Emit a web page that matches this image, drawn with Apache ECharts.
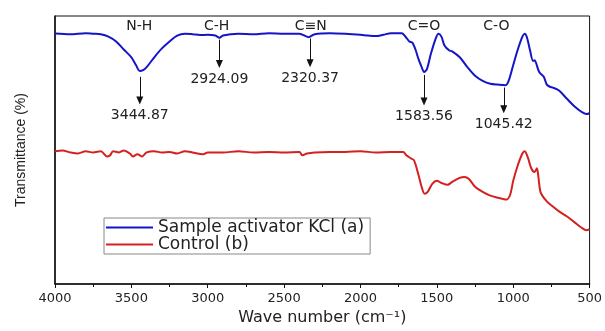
<!DOCTYPE html>
<html>
<head>
<meta charset="utf-8">
<script src="https://cdn.jsdelivr.net/npm/echarts@6/dist/echarts.min.js"></script>
<style>
  html, body { margin: 0; padding: 0; background: #fff; }
  #chart { width: 605px; height: 331px; }
</style>
</head>
<body>
<div id="chart"></div>
<script>
// wavenumber (cm-1), transmittance (arbitrary)
const sampleKCl = [
  [4000, 93.5], [3900, 93.2], [3800, 93.6], [3750, 93.4], [3700, 93.2], [3650, 92.3],
  [3600, 90.5], [3550, 87.5], [3500, 84.6], [3470, 81.7], [3445, 79.5], [3420, 79.9],
  [3400, 80.9], [3350, 84.6], [3300, 87.9], [3250, 90.5], [3200, 92.7], [3150, 93.4],
  [3100, 93.2], [3050, 92.9], [3000, 93.0], [2950, 92.7], [2924, 91.9], [2900, 92.7],
  [2850, 93.2], [2800, 93.4], [2700, 93.2], [2600, 93.6], [2500, 93.4], [2400, 93.4],
  [2340, 92.1], [2300, 93.2], [2200, 93.6], [2100, 93.4], [2000, 93.0], [1950, 92.7],
  [1900, 92.5], [1850, 93.0], [1800, 93.6], [1730, 93.6], [1700, 91.9], [1680, 90.5],
  [1660, 90.1], [1640, 87.5], [1620, 83.9], [1600, 81.0], [1584, 79.1], [1565, 80.2],
  [1540, 85.7], [1510, 91.2], [1490, 93.4], [1470, 92.3], [1450, 89.0], [1420, 87.2],
  [1400, 86.8], [1350, 84.6], [1300, 80.9], [1250, 77.7], [1200, 75.8], [1150, 74.7],
  [1100, 74.4], [1050, 74.2], [1030, 75.8], [1000, 81.7], [970, 87.5], [940, 92.3],
  [925, 93.4], [910, 92.0], [890, 87.2], [870, 83.2], [860, 83.5], [850, 82.4],
  [830, 79.1], [800, 77.3], [780, 74.4], [760, 73.6], [740, 73.3], [700, 72.2],
  [650, 69.2], [600, 66.3], [550, 64.1], [520, 63.4], [500, 63.7]
]

const control = [
  [4000, 49.5], [3950, 49.8], [3900, 49.1], [3850, 48.7], [3800, 49.5], [3750, 49.1],
  [3700, 49.5], [3660, 47.6], [3640, 48.0], [3620, 49.5], [3580, 49.1], [3550, 49.8],
  [3510, 48.7], [3490, 47.6], [3460, 48.4], [3430, 47.6], [3400, 49.1], [3350, 49.5],
  [3300, 49.1], [3250, 49.3], [3200, 48.7], [3150, 49.5], [3100, 49.1], [3030, 48.4],
  [3000, 49.1], [2900, 49.1], [2800, 49.5], [2700, 49.1], [2600, 49.3], [2500, 49.1],
  [2400, 49.3], [2380, 48.0], [2350, 48.7], [2300, 49.1], [2200, 49.3], [2100, 49.3],
  [2000, 49.5], [1900, 49.1], [1800, 49.3], [1720, 49.3], [1700, 48.0], [1670, 46.9],
  [1650, 46.2], [1620, 40.7], [1600, 36.3], [1580, 33.7], [1560, 34.4], [1530, 37.4],
  [1500, 38.5], [1470, 37.7], [1430, 37.0], [1400, 38.1], [1350, 39.6], [1320, 39.9],
  [1290, 39.2], [1250, 36.3], [1200, 34.4], [1150, 33.0], [1100, 32.2], [1045, 31.5],
  [1020, 33.3], [1000, 38.5], [970, 44.3], [940, 48.7], [925, 49.5], [905, 47.3],
  [880, 42.9], [860, 41.8], [845, 43.2], [835, 39.9], [820, 34.1], [780, 30.8],
  [740, 28.9], [700, 27.1], [650, 25.3], [600, 23.1], [550, 20.9], [520, 20.1], [500, 20.5]
]

// peak arrows: [x, arrow start y, arrow end y, label]
const peakArrows = [
  [3445, 77.3, 68.5, '3444.87'],
  [2924, 91.2, 82.1, '2924.09'],
  [2330, 91.6, 82.4, '2320.37'],
  [1584, 78.0, 68.1, '1583.56'],
  [1062, 73.3, 65.2, '1045.42']
]

// bond labels: [x, y, text]
const bondLabels = [
  [3448, 96.3, 'N-H'],
  [2942, 96.3, 'C-H'],
  [2325, 96.3, 'C\u2261N'],
  [1584, 96.3, 'C=O'],
  [1110, 96.3, 'C-O']
]

const seriesNames = ['Sample activator KCl (a)', 'Control (b)']
const xTicks = [500, 4000, 500] // min, max, step

const font = 'DejaVu Sans, Arial, sans-serif'
const chart = echarts.init(document.getElementById('chart'))

const option = {
  animation: false,
  textStyle: { fontFamily: font },
  grid: {
    left: 55, right: 11, top: 16, bottom: 42,
    show: true, borderColor: '#111', borderWidth: 1
  },
  legend: {
    data: seriesNames,
    orient: 'vertical',
    left: 104, top: 218,
    icon: 'rect',
    itemWidth: 47, itemHeight: 2, itemGap: 0,
    padding: [1, 6, 1, 2],
    borderColor: '#888', borderWidth: 1,
    backgroundColor: '#fff',
    textStyle: { fontSize: 17, lineHeight: 17, color: '#222', fontFamily: font }
  },
  xAxis: {
    type: 'value',
    inverse: true,
    min: xTicks[0], max: xTicks[1], interval: xTicks[2],
    name: 'Wave number (cm\u207B\u00B9)',
    nameLocation: 'middle',
    nameGap: 26,
    nameTextStyle: { fontSize: 16, color: '#222' },
    axisLine: { lineStyle: { color: '#111', width: 1.5 } },
    axisTick: { show: true, length: 4, lineStyle: { color: '#111' } },
    minorTick: { show: true, splitNumber: 2, length: 3, lineStyle: { color: '#111' } },
    axisLabel: { fontSize: 13, color: '#222', margin: 8, formatter: v => String(v) },
    splitLine: { show: false }
  },
  yAxis: {
    type: 'value',
    min: 0, max: 100,
    name: 'Transmittance (%)',
    nameLocation: 'middle',
    nameGap: 27,
    nameTextStyle: { fontSize: 14, color: '#222', fontFamily: 'Liberation Sans, Arial, sans-serif' },
    axisLine: { show: true, lineStyle: { color: '#111', width: 1.5 } },
    axisTick: { show: false },
    axisLabel: { show: false },
    splitLine: { show: false }
  },
  series: [
    {
      name: seriesNames[0],
      type: 'line',
      data: sampleKCl,
      symbol: 'none',
      smooth: 0.3,
      lineStyle: { color: '#1515c8', width: 2 },
      itemStyle: { color: '#1515c8' },
      markLine: {
        silent: true,
        symbol: ['none', 'triangle'],
        symbolSize: [7, 8],
        lineStyle: { color: '#111', width: 1, type: 'solid' },
        label: {
          position: 'end', distance: 8,
          fontSize: 14, color: '#222', fontFamily: font,
          formatter: p => p.name
        },
        data: peakArrows.map(a => [
          { coord: [a[0], a[1]], name: a[3] },
          { coord: [a[0], a[2]] }
        ])
      },
      markPoint: {
        silent: true,
        symbol: 'circle',
        symbolSize: 0,
        label: {
          show: true, position: 'inside',
          fontSize: 14, color: '#222', fontFamily: font,
          formatter: p => p.name
        },
        data: bondLabels.map(b => ({ coord: [b[0], b[1]], name: b[2] }))
      }
    },
    {
      name: seriesNames[1],
      type: 'line',
      data: control,
      symbol: 'none',
      smooth: 0.3,
      lineStyle: { color: '#d42020', width: 2 },
      itemStyle: { color: '#d42020' }
    }
  ]
}

chart.setOption(option)
</script>
</body>
</html>
